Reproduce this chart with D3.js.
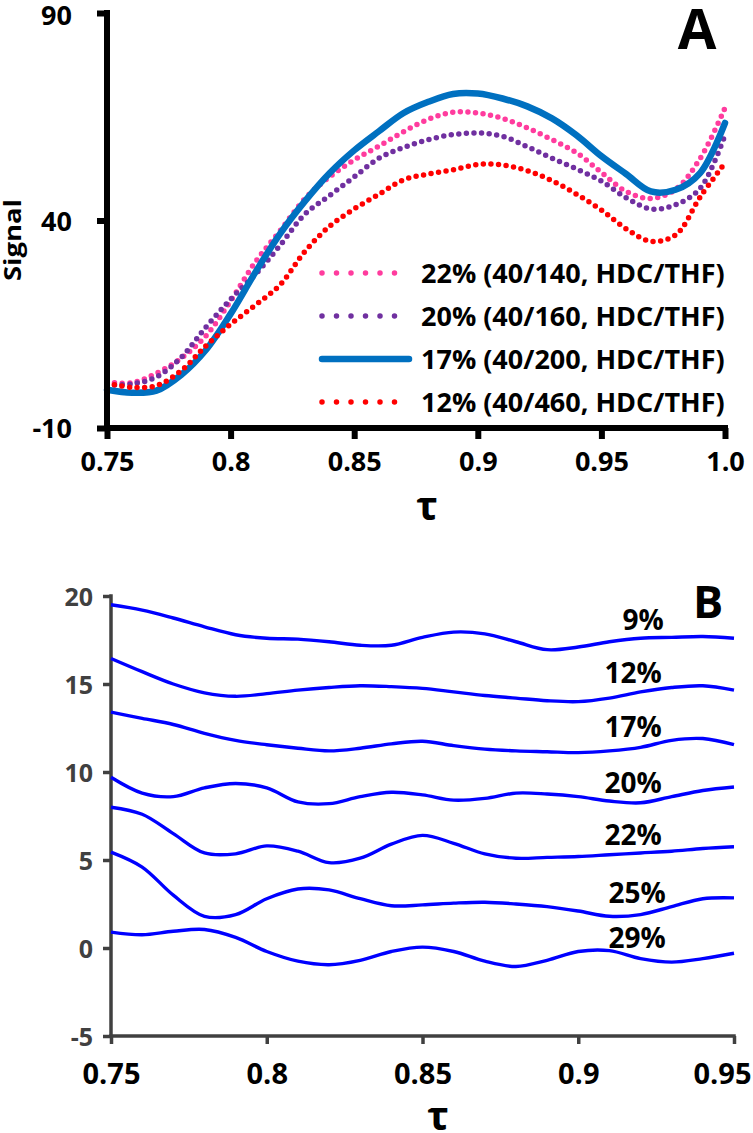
<!DOCTYPE html>
<html>
<head>
<meta charset="utf-8">
<script src="https://cdn.jsdelivr.net/npm/d3@7"></script>
<style>
  html, body { margin: 0; padding: 0; background: #fff; }
  svg text { font-family: "Open Sans", "DejaVu Sans", sans-serif; font-weight: 700; }
</style>
</head>
<body>
<svg id="chart" width="753" height="1133"></svg>
<script>
// ---------------- Panel A data ----------------
const tauA = [0.75,0.76,0.77,0.78,0.79,0.80,0.81,0.82,0.83,0.84,0.85,0.86,0.87,0.88,0.89,0.90,0.91,0.92,0.93,0.94,0.95,0.96,0.97,0.98,0.99,1.00];
const seriesA_names = ["22% (40/140, HDC/THF)", "20% (40/160, HDC/THF)", "17% (40/200, HDC/THF)", "12% (40/460, HDC/THF)"];
const a22 = [1.1,0.9,3.2,6.8,12.2,20.6,30.0,37.5,45.2,50.5,54.6,57.9,61.4,64.4,66.1,65.9,64.6,62.3,59.5,56.3,51.6,47.0,45.3,47.5,55.0,67.1];
const a20 = [0.4,0.6,2.3,7.0,14.3,21.0,27.0,34.0,41.5,46.0,50.5,55.0,57.6,59.5,60.7,61.1,60.3,57.8,55.0,52.4,49.5,45.5,42.8,43.8,47.8,60.6];
const a17 = [-0.8,-1.5,-1.0,2.8,8.8,17.5,27.5,36.8,44.6,51.4,56.9,61.5,65.9,68.6,70.5,70.6,69.4,67.5,64.6,60.5,55.5,51.2,47.0,47.4,51.5,63.5];
const a12 = [0.8,-0.2,0.2,3.8,9.8,15.0,19.6,24.5,32.5,38.6,42.8,46.3,49.8,51.2,52.2,53.5,53.4,52.0,49.6,46.3,42.5,38.0,35.0,36.5,45.7,53.9];
const xTicksA = [0.75,0.8,0.85,0.9,0.95,1.0];
const xTickLabelsA = ["0.75","0.8","0.85","0.9","0.95","1.0"];
const yTicksA = [-10,40,90];
const yTickLabelsA = ["-10","40","90"];

// ---------------- Panel B data ----------------
const tauB = [0.75,0.76,0.77,0.78,0.79,0.80,0.81,0.82,0.83,0.84,0.85,0.86,0.87,0.88,0.89,0.90,0.91,0.92,0.93,0.94,0.95];
const seriesB_names = ["9%","12%","17%","20%","22%","25%","29%"];
const b9  = [19.5,19.2,18.75,18.25,17.8,17.6,17.55,17.4,17.2,17.2,17.65,17.95,17.85,17.4,16.95,17.1,17.4,17.6,17.65,17.7,17.6];
const b12 = [16.45,15.7,15.0,14.5,14.3,14.45,14.65,14.8,14.9,14.85,14.75,14.55,14.35,14.2,14.05,14.0,14.2,14.55,14.8,14.9,14.65];
const b17 = [13.4,13.05,12.7,12.2,11.8,11.55,11.35,11.2,11.35,11.6,11.75,11.5,11.3,11.2,11.15,11.1,11.2,11.4,11.8,11.9,11.55];
const b20 = [9.7,8.8,8.6,9.1,9.35,9.1,8.3,8.2,8.6,8.85,8.7,8.4,8.5,8.8,8.75,8.6,8.35,8.25,8.6,8.95,9.15];
const b22 = [8.0,7.6,6.5,5.4,5.35,5.8,5.5,4.85,5.1,5.9,6.4,5.95,5.35,5.1,5.15,5.2,5.3,5.4,5.5,5.65,5.75];
const b25 = [5.45,4.6,3.0,1.8,1.9,2.8,3.35,3.3,2.8,2.4,2.45,2.55,2.6,2.5,2.35,2.1,1.8,1.9,2.35,2.8,2.85];
const b29 = [0.9,0.75,0.95,1.05,0.6,-0.2,-0.75,-0.95,-0.7,-0.2,0.05,-0.2,-0.75,-1.05,-0.7,-0.2,-0.15,-0.6,-0.8,-0.6,-0.3];
const xTicksB = [0.75,0.8,0.85,0.9,0.95];
const xTickLabelsB = ["0.75","0.8","0.85","0.9","0.95"];
const yTicksB = [-5,0,5,10,15,20];
const yTickLabelsB = ["-5","0","5","10","15","20"];

// ---------------- Drawing ----------------
const svg = d3.select("#chart");

// ===== Panel A =====
const xA = d3.scaleLinear().domain([0.75, 1.0]).range([107, 725]);
const yA = d3.scaleLinear().domain([-10, 90]).range([428, 13]);

const seriesA = [
  {name: seriesA_names[0], vals: a22, color: "#FF3C9E", dotted: true},
  {name: seriesA_names[1], vals: a20, color: "#7030A0", dotted: true},
  {name: seriesA_names[2], vals: a17, color: "#0070C0", dotted: false},
  {name: seriesA_names[3], vals: a12, color: "#FF0000", dotted: true}
];

const lineA = d3.line().curve(d3.curveCatmullRom.alpha(0.5))
  .x(d => xA(d[0])).y(d => yA(d[1]));

const gA = svg.append("g");
seriesA.forEach(s => {
  const pts = tauA.map((t, i) => [t, s.vals[i]]);
  const p = gA.append("path").attr("d", lineA(pts)).attr("fill", "none")
    .attr("stroke", s.color).attr("stroke-linecap", "round");
  if (s.dotted) p.attr("stroke-width", 5.5).attr("stroke-dasharray", "0 7.6");
  else p.attr("stroke-width", 6.5).attr("stroke-linejoin", "round");
});

// axes A
const axA_x = gA.append("g").attr("transform", `translate(0,${yA(-10)})`)
  .call(d3.axisBottom(xA).tickValues(xTicksA).tickSize(11).tickSizeOuter(0)
    .tickFormat((d, i) => xTickLabelsA[i]));
const axA_y = gA.append("g").attr("transform", `translate(${xA(0.75)},0)`)
  .call(d3.axisLeft(yA).tickValues(yTicksA).tickSize(10).tickSizeOuter(0)
    .tickFormat((d, i) => yTickLabelsA[i]));
[axA_x, axA_y].forEach(ax => {
  ax.select(".domain").attr("stroke", "#000").attr("stroke-width", 6);
  ax.selectAll(".tick line").attr("stroke", "#000").attr("stroke-width", 6);
  ax.selectAll(".tick text").attr("fill", "#000")
    .style("font-size", "27px").style("font-family", "'Open Sans'").style("font-weight", 700);
});
axA_x.select(".domain").attr("d", `M${xA(0.75) - 3},0H${xA(1.0) + 3}`);
axA_y.select(".domain").attr("d", `M0,${yA(90) - 3}V${yA(-10) + 3}`);
axA_x.selectAll(".tick text").attr("y", 24).attr("dy", "0.71em");
axA_y.selectAll(".tick text").attr("x", -35).attr("dy", "0.36em");
axA_y.selectAll(".tick").filter(d => d === 90).select("text").attr("dy", "0.42em");

gA.append("text").attr("x", 427).attr("y", 520).attr("text-anchor", "middle")
  .style("font-size", "40px").text("τ");
gA.append("text").attr("transform", "translate(21,240) rotate(-90)").attr("text-anchor", "middle")
  .attr("textLength", 82).attr("lengthAdjust", "spacingAndGlyphs")
  .style("font-size", "24px").text("Signal");
gA.append("text").attr("x", 697).attr("y", 49).attr("text-anchor", "middle")
  .style("font-size", "56px").text("A");

// legend A
const legRowY = d3.scalePoint().domain(seriesA_names).range([273, 402]);
seriesA.forEach(s => {
  const y = legRowY(s.name);
  const l = gA.append("line").attr("x1", 322).attr("x2", 409).attr("y1", y).attr("y2", y)
    .attr("stroke", s.color).attr("stroke-linecap", "round");
  if (s.dotted) l.attr("stroke-width", 5.5).attr("stroke-dasharray", "0 14.5");
  else l.attr("stroke-width", 6.5);
  gA.append("text").attr("x", 421).attr("y", y + 10).style("font-size", "27px").text(s.name);
});

// ===== Panel B =====
const xB = d3.scaleLinear().domain([0.75, 0.95]).range([111, 734]);
const yB = d3.scaleLinear().domain([-5, 20]).range([1036, 596]);
const gB = svg.append("g");

const axB_x = gB.append("g").attr("transform", `translate(0,${yB(-5)})`)
  .call(d3.axisBottom(xB).tickValues(xTicksB).tickSize(8).tickSizeOuter(0)
    .tickFormat((d, i) => xTickLabelsB[i]));
const axB_y = gB.append("g").attr("transform", `translate(${xB(0.75)},0)`)
  .call(d3.axisLeft(yB).tickValues(yTicksB).tickSize(8).tickSizeOuter(0)
    .tickFormat((d, i) => yTickLabelsB[i]));
[axB_x, axB_y].forEach(ax => {
  ax.select(".domain").attr("stroke", "#404040").attr("stroke-width", 3.5);
  ax.selectAll(".tick line").attr("stroke", "#404040").attr("stroke-width", 3.5);
  ax.selectAll(".tick text").style("font-family", "'Open Sans'").style("font-weight", 700);
});
axB_x.select(".domain").attr("d", `M${xB(0.75) - 1.75},0H${xB(0.95) + 1.75}`);
axB_y.select(".domain").attr("d", `M0,${yB(20) - 1.75}V${yB(-5) + 1.75}`);
axB_x.selectAll(".tick text").attr("fill", "#000").style("font-size", "29px")
  .attr("y", 27).attr("dy", "0.71em");
// keep the last label inside the picture, as in the reference
axB_x.selectAll(".tick").filter(d => d === 0.95).select("text")
  .attr("text-anchor", "end").attr("x", 17);
axB_y.selectAll(".tick text").attr("fill", "#404040").style("font-size", "25px")
  .attr("x", -18).attr("dy", "0.36em");

const lineB = d3.line().curve(d3.curveCatmullRom.alpha(0.5))
  .x(d => xB(d[0])).y(d => yB(d[1]));
const seriesB = [b9, b12, b17, b20, b22, b25, b29];
seriesB.forEach(vals => {
  const pts = tauB.map((t, i) => [t, vals[i]]);
  gB.append("path").attr("d", lineB(pts)).attr("fill", "none")
    .attr("stroke", "#0000FF").attr("stroke-width", 3.4).attr("stroke-linejoin", "round");
});

// series labels (layout positions)
const labelPosB = [[643, 630], [633, 683], [633, 737], [633, 793], [633, 845], [637, 903], [637, 948]];
seriesB_names.forEach((n, i) => {
  gB.append("text").attr("x", labelPosB[i][0]).attr("y", labelPosB[i][1])
    .attr("text-anchor", "middle").style("font-size", "28px").attr("fill", "#000").text(n);
});

gB.append("text").attr("x", 438).attr("y", 1130).attr("text-anchor", "middle")
  .style("font-size", "40px").text("τ");
gB.append("text").attr("x", 708).attr("y", 618).attr("text-anchor", "middle")
  .style("font-size", "45px").text("B");
</script>
</body>
</html>
